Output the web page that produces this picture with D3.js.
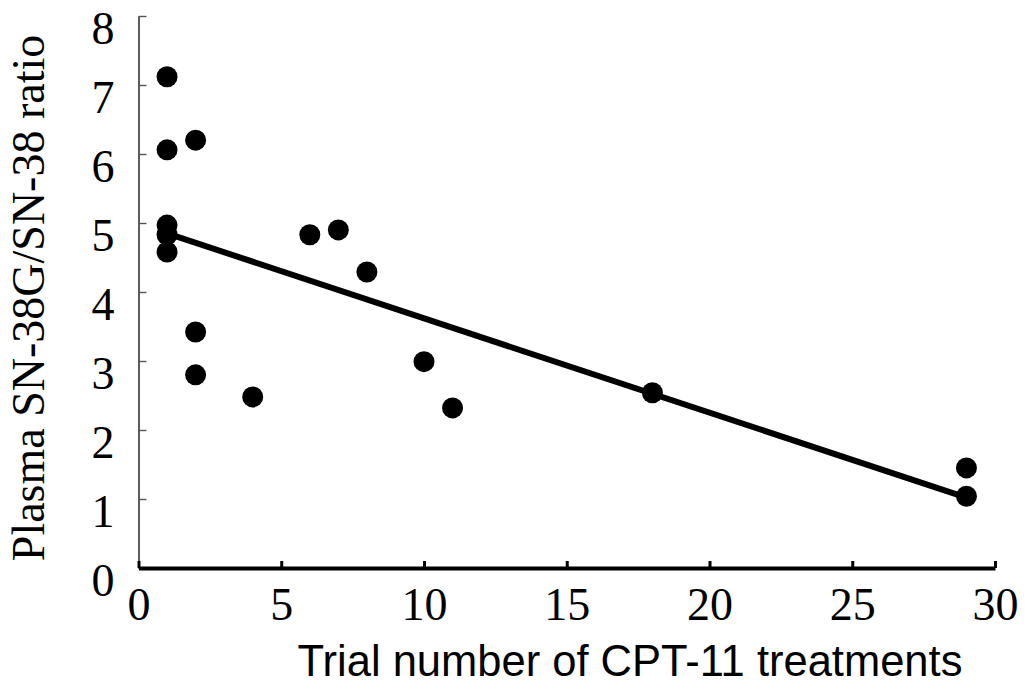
<!DOCTYPE html>
<html>
<head>
<meta charset="utf-8">
<script src="https://cdn.jsdelivr.net/npm/d3@7"></script>
<style>
  body { margin: 0; background: #fff; }
</style>
</head>
<body>
<svg id="chart"></svg>
<script>
const width = 1030, height = 692;

// trial number of treatments vs plasma SN-38G/SN-38 ratio
const trialNum = [1, 1, 2, 1, 1, 1, 2, 2, 4, 6, 7, 8, 10, 11, 18, 29, 29];
const ratio = [7.12, 6.06, 6.2, 4.97, 4.83, 4.58, 3.42, 2.8, 2.48, 4.83, 4.9, 4.29, 2.99, 2.32, 2.54, 1.45, 1.04];
// regression line end points
const fitX = [1, 29];
const fitY = [4.85, 1.02];

const xTicks = [0, 5, 10, 15, 20, 25, 30];
const yTicks = [0, 1, 2, 3, 4, 5, 6, 7, 8];

const svg = d3.select("#chart")
    .attr("width", width)
    .attr("height", height);

const x = d3.scaleLinear().domain([0, 30]).range([138.5, 995]);
const y = d3.scaleLinear().domain([0, 8]).range([568, 16]);

//y axis, ticks point inward
const yAxis = svg.append("g")
    .attr("transform", "translate(" + x(0) + ",0)")
    .call(d3.axisLeft(y).tickValues(yTicks).tickSizeInner(-8).tickSizeOuter(0).tickPadding(24));
yAxis.select(".domain").attr("stroke", "#333").attr("stroke-width", 1.6);
yAxis.selectAll(".tick line").attr("stroke", "#555").attr("stroke-width", 1.4);
yAxis.selectAll("text")
    .attr("dy", "0.6em")
    .style("font-family", "Liberation Serif, Times New Roman, serif")
    .style("font-size", "46px")
    .style("fill", "#000");

//x axis, thick line
const xAxis = svg.append("g")
    .attr("transform", "translate(0," + y(0) + ")")
    .call(d3.axisBottom(x).tickValues(xTicks).tickSizeInner(-7).tickSizeOuter(0).tickPadding(19));
xAxis.select(".domain").attr("stroke", "#000").attr("stroke-width", 4);
xAxis.selectAll(".tick line").attr("stroke", "#000").attr("stroke-width", 3);
xAxis.selectAll("text")
    .style("font-family", "Liberation Serif, Times New Roman, serif")
    .style("font-size", "46px")
    .style("fill", "#000");

//fitted line
const line = d3.line()
    .x(function (d) { return x(d[0]); })
    .y(function (d) { return y(d[1]); });

svg.append("path")
    .datum(fitX.map(function (v, i) { return [v, fitY[i]]; }))
    .attr("d", line)
    .attr("fill", "none")
    .attr("stroke", "#000")
    .attr("stroke-width", 6);

//points
svg.selectAll(".dot")
    .data(trialNum)
    .enter()
    .append("circle")
    .attr("class", "dot")
    .attr("cx", function (d) { return x(d); })
    .attr("cy", function (d, i) { return y(ratio[i]); })
    .attr("r", 10.5)
    .style("fill", "#000");

//axis titles
svg.append("text")
    .attr("x", 630)
    .attr("y", 676)
    .attr("text-anchor", "middle")
    .text("Trial number of CPT-11 treatments")
    .style("font-family", "Liberation Sans, Arial, sans-serif")
    .style("font-size", "43.5px");

svg.append("text")
    .attr("transform", "translate(44,298) rotate(-90)")
    .attr("text-anchor", "middle")
    .text("Plasma SN-38G/SN-38 ratio")
    .style("font-family", "Liberation Serif, Times New Roman, serif")
    .style("font-size", "46px");
</script>
</body>
</html>
